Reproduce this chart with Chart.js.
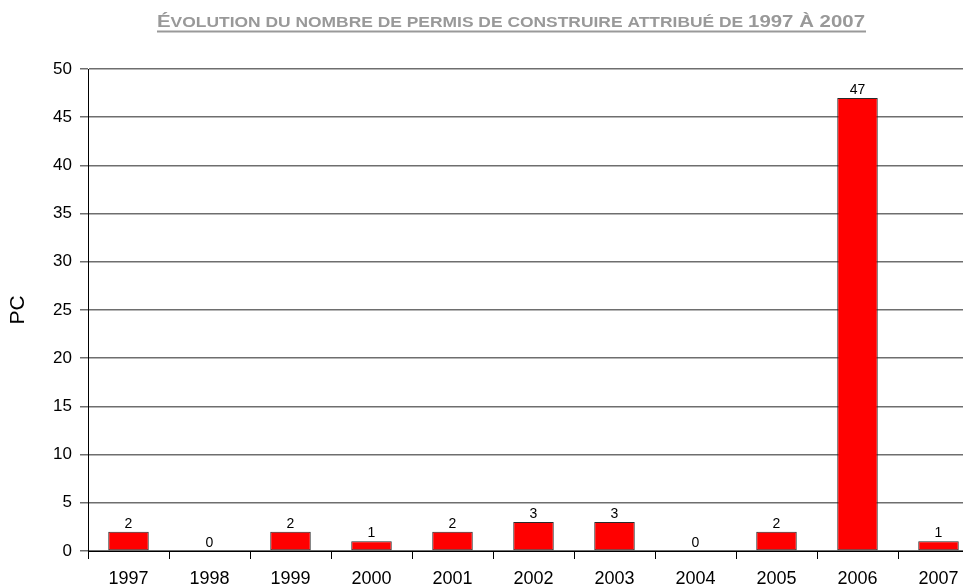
<!DOCTYPE html>
<html>
<head>
<meta charset="utf-8">
<script src="https://cdn.jsdelivr.net/npm/chart.js@4/dist/chart.umd.min.js"></script>
<style>
html,body{margin:0;padding:0;background:#fff;overflow:hidden;width:963px;height:587px;}
canvas{display:block;}
</style>
</head>
<body>
<canvas id="c" width="980" height="587"></canvas>
<script>
const years = ['1997','1998','1999','2000','2001','2002','2003','2004','2005','2006','2007'];
const permits = [2, 0, 2, 1, 2, 3, 3, 0, 2, 47, 1];
const yTicks = [0, 5, 10, 15, 20, 25, 30, 35, 40, 45, 50];
const yTitle = 'PC';
const titleParts = [
  ['É', 'big'],
  ['VOLUTION DU NOMBRE DE PERMIS DE CONSTRUIRE ATTRIBUÉ DE ', 'small'],
  ['1997 À 2007', 'big']
];

const FONT = '"Liberation Sans", Arial, Helvetica, sans-serif';

const titlePlugin = {
  id: 'titlePlugin',
  afterDraw(chart) {
    const ctx = chart.ctx;
    const left = 157, right = 865, baseline = 27.3;
    const fonts = { big: 'bold 17px ' + FONT, small: 'bold 14.5px ' + FONT };
    ctx.save();
    let w = 0;
    titleParts.forEach(([t, s]) => { ctx.font = fonts[s]; w += ctx.measureText(t).width; });
    const sx = (right - left) / w;
    ctx.fillStyle = '#999999';
    ctx.textBaseline = 'alphabetic';
    ctx.translate(left, 0);
    ctx.scale(sx, 1);
    let x = 0;
    titleParts.forEach(([t, s]) => { ctx.font = fonts[s]; ctx.fillText(t, x, baseline); x += ctx.measureText(t).width; });
    ctx.restore();
    ctx.save();
    ctx.fillStyle = '#999999';
    ctx.fillRect(left, 30.5, right - left + 1, 2);
    ctx.restore();
  }
};

const labelPlugin = {
  id: 'labelPlugin',
  afterDatasetsDraw(chart) {
    const ctx = chart.ctx;
    const meta = chart.getDatasetMeta(0);
    ctx.save();
    ctx.font = '14px ' + FONT;
    ctx.fillStyle = '#000';
    ctx.textAlign = 'center';
    ctx.textBaseline = 'alphabetic';
    meta.data.forEach((bar, i) => {
      ctx.fillText(String(permits[i]), bar.x, bar.y - 4);
    });
    ctx.restore();
  }
};

new Chart(document.getElementById('c'), {
  type: 'bar',
  data: {
    labels: years,
    datasets: [{
      data: permits,
      backgroundColor: '#FF0000',
      borderColor: '#2a2a2a',
      borderWidth: 1,
      borderSkipped: false,
      categoryPercentage: 1,
      barPercentage: 0.5
    }]
  },
  options: {
    responsive: false,
    animation: false,
    devicePixelRatio: 1,
    layout: { padding: { top: 69, right: 1, left: 0, bottom: 0 } },
    plugins: { legend: { display: false }, title: { display: false }, tooltip: { enabled: false } },
    scales: {
      x: {
        offset: true,
        grid: { display: true, drawOnChartArea: false, drawTicks: true, tickLength: 8, color: '#000', offset: true },
        border: { display: true, color: '#000', width: 1 },
        ticks: { color: '#000', font: { family: FONT, size: 18 }, padding: 9, maxRotation: 0, autoSkip: false },
        afterFit(s) { s.height = 36; }
      },
      y: {
        min: 0, max: 50,
        afterBuildTicks(s) { s.ticks = yTicks.map(v => ({ value: v })); },
        grid: { color: '#6e6e6e', lineWidth: 1.5, tickLength: 8, drawTicks: true },
        border: { display: true, color: '#000', width: 1 },
        ticks: { color: '#000', font: { family: FONT, size: 17 }, padding: 8 },
        title: { display: true, text: yTitle, color: '#000', font: { family: FONT, size: 21 }, padding: { top: 6, bottom: 0 } },
        afterFit(s) { s.width = 88; }
      }
    }
  },
  plugins: [titlePlugin, labelPlugin]
});
</script>
</body>
</html>
